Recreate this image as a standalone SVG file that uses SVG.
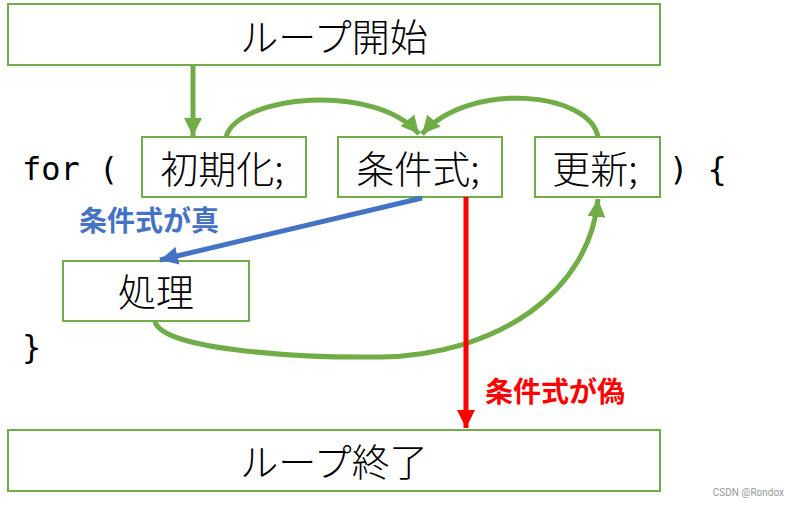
<svg xmlns="http://www.w3.org/2000/svg" width="800" height="505" viewBox="0 0 800 505">
<defs>
<style>
.box{fill:#fff;stroke:#70AD47;stroke-width:2}
.t{font-family:"Noto Sans CJK JP","Noto Sans",sans-serif;font-size:38px;font-weight:300;fill:#000;text-anchor:middle;dominant-baseline:central}
.code{font-family:"DejaVu Sans Mono","Liberation Mono",monospace;font-size:32px;fill:#000}
.g{fill:none;stroke:#70AD47;stroke-width:5}
.lbl{font-family:"Noto Sans CJK JP",sans-serif;font-size:28px;font-weight:bold;text-anchor:middle;dominant-baseline:central}
</style>
<marker id="ag" viewBox="0 0 10 10" refX="10" refY="5" markerUnits="userSpaceOnUse" markerWidth="18" markerHeight="18" orient="auto"><path d="M0,0 L10,5 L0,10 z" fill="#70AD47"/></marker>
<marker id="ab" viewBox="0 0 10 10" refX="10" refY="5" markerUnits="userSpaceOnUse" markerWidth="18" markerHeight="18" orient="auto"><path d="M0,0 L10,5 L0,10 z" fill="#4472C4"/></marker>
<marker id="ar" viewBox="0 0 10 10" refX="10" refY="5" markerUnits="userSpaceOnUse" markerWidth="20" markerHeight="18" orient="auto"><path d="M0,0 L10,5 L0,10 z" fill="#FF0000"/></marker>
</defs>
<rect width="800" height="505" fill="#fff"/>
<text class="code" x="22" y="180">for (</text>
<text class="code" x="669" y="180">) {</text>
<text class="code" x="22" y="358">}</text>
<g id="loop-start"><rect class="box" x="8" y="4" width="652" height="61"/><text class="t" x="334" y="34">ループ開始</text></g>
<g id="init"><rect class="box" x="142" y="137" width="164" height="60"/><text class="t" x="222" y="166">初期化;</text></g>
<g id="cond"><rect class="box" x="338" y="137" width="164" height="60"/><text class="t" x="418" y="166">条件式;</text></g>
<g id="update"><rect class="box" x="535" y="137" width="125" height="60"/><text class="t" x="595" y="166">更新;</text></g>
<g id="body"><rect class="box" x="63" y="261" width="186" height="60"/><text class="t" x="156" y="289">処理</text></g>
<g id="loop-end"><rect class="box" x="8" y="430" width="652" height="61"/><text class="t" x="334" y="459">ループ終了</text></g>
<g id="connectors">
<line class="g" x1="193" y1="65" x2="193" y2="136" marker-end="url(#ag)"/>
<path class="g" d="M226,137 C238,95 375,82 419,134" marker-end="url(#ag)"/>
<path class="g" d="M598,137 C590,92 470,80 422,134" marker-end="url(#ag)"/>
<path class="g" d="M155,321 C160,350 300,358 380,357 C500,355 590,290 598,199" marker-end="url(#ag)"/>
<line x1="422" y1="198" x2="160" y2="260" stroke="#4472C4" stroke-width="5" marker-end="url(#ab)"/>
<line x1="466" y1="197" x2="466" y2="428" stroke="#FF0000" stroke-width="5" marker-end="url(#ar)"/>
<text class="lbl" x="149" y="219" fill="#4472C4">条件式が真</text>
<text class="lbl" x="555" y="390" fill="#FF0000">条件式が偽</text>
</g>
<text x="784" y="496" font-family="Roboto,'Liberation Sans',sans-serif" font-size="10" fill="#999" text-anchor="end">CSDN @Rondox</text>
</svg>
